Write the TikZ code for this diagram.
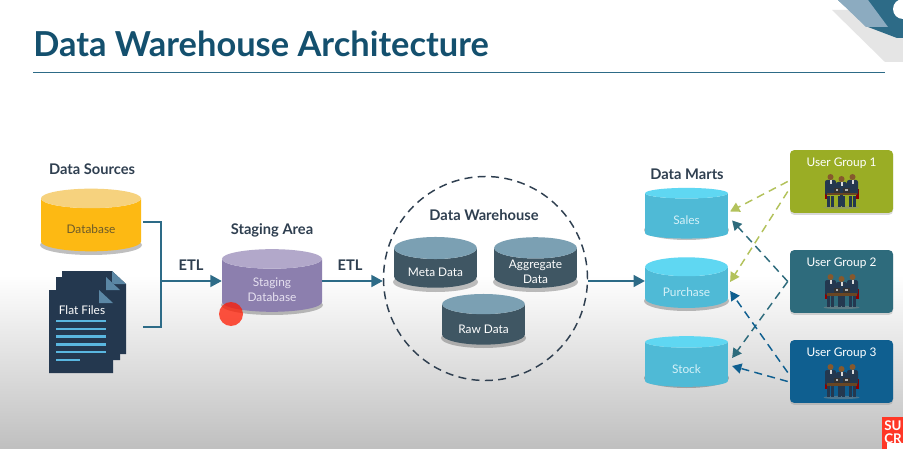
\documentclass[tikz,border=0pt]{standalone}
\usepackage{fontspec}
\setmainfont{Lato}
\usepackage{xcolor}
\usepackage{tikz}
\usetikzlibrary{calc,shapes.geometric,arrows.meta,shadows,positioning}

\definecolor{titleblue}{HTML}{14506E}
\definecolor{linkblue}{HTML}{2D6B87}
\definecolor{headgray}{HTML}{2F3F50}
\definecolor{fileblue}{HTML}{24384F}
\definecolor{foldblue}{HTML}{5B87A5}
\definecolor{rowblue}{HTML}{5AB7E0}
\definecolor{groupone}{HTML}{9AAD25}
\definecolor{grouptwo}{HTML}{2E6B7C}
\definecolor{groupthree}{HTML}{0F5F90}
\definecolor{dbbody}{HTML}{FDB913}
\definecolor{dbtop}{HTML}{F6D27E}
\definecolor{dbtext}{HTML}{6B5A2A}
\definecolor{stagebody}{HTML}{8C7FAE}
\definecolor{stagetop}{HTML}{B2A8CA}
\definecolor{stagetext}{HTML}{E6E1F0}
\definecolor{dwhbody}{HTML}{3F5663}
\definecolor{dwhtop}{HTML}{7BA0B3}
\definecolor{martbody}{HTML}{4FBAD6}
\definecolor{marttop}{HTML}{5FD7F2}
\definecolor{marttext}{HTML}{D5F1F8}

\newcommand{\dbdrop}{\rule{0pt}{13pt}}
\newcommand{\dblow}[1]{\raisebox{-6pt}[0pt][0pt]{#1}}

\tikzset{
  dbcyl/.style n args={3}{shape=cylinder,shape border rotate=90,aspect=0.4,draw=none,
    cylinder uses custom fill,cylinder body fill=#1,cylinder end fill=#2,text=#3,
    inner sep=0pt,align=center,font=\fontsize{8.9}{11}\selectfont},
  headtxt/.style={inner sep=0.75pt,text=headgray,font=\fontsize{11}{13}\selectfont\bfseries},
  groupbox/.style={rounded corners=3pt,minimum width=77.25pt,minimum height=47pt,inner sep=0pt,
    drop shadow={opacity=0.3,shadow xshift=0pt,shadow yshift=-1.5pt}},
  grouptxt/.style={inner sep=0.75pt,text=white,font=\fontsize{8.9}{10}\selectfont},
  link/.style={draw=linkblue,line width=1.1pt},
  linkarrow/.style={link,-{Triangle[length=8.5pt,width=9pt]}},
  useflow/.style={line width=1.1pt,dash pattern=on 6pt off 4pt,-{Triangle[length=7pt,width=7.5pt]}},
  team/.pic={
    \fill [black!45,opacity=0.5] (0,16.5) ellipse (18 and 1.6);
    \fill [red!55!black] (-17,-2) rectangle (-14.5,8);
    \fill [red!55!black] (14.5,-2) rectangle (17,8);
    \foreach \px/\hy in {-11/-14,0/-12,11/-14}{
      \fill [fileblue] (\px-3.2,5) rectangle (\px-0.4,16);
      \fill [fileblue] (\px+0.4,5) rectangle (\px+3.2,16);
      \fill [fileblue,rounded corners=1.5pt] (\px-5.5,\hy+3) rectangle (\px+5.5,4);
      \fill [white!85!black] (\px-1,\hy+3) rectangle (\px+1,\hy+7);
      \fill [brown!70!black] (\px,\hy) circle (3);
    }
    \fill [black!80] (-8,-3) rectangle (-1.5,2);
    \fill [white!70!black] (-6,-2) rectangle (-3.5,0);
    \fill [black!80] (1.5,-3) rectangle (8,2);
    \fill [white!70!black] (3.5,-2) rectangle (6,0);
    \fill [brown!55!black] (-15,2) rectangle (15,4.5);
    \fill [fileblue] (-1.2,4.5) rectangle (1.2,15);
  },
  filepage/.pic={
    \fill [fileblue] (0,0) -- (50,0) -- (64,13) -- (64,83) -- (0,83) -- cycle;
    \fill [foldblue] (50,0) -- (50,13) -- (64,13) -- cycle;
  }
}

\begin{document}
\begin{tikzpicture}[x=0.75pt,y=0.75pt,yscale=-1,xscale=1]
\useasboundingbox (0,0) rectangle (903,449);

%Background
\fill [white] (0,0) rectangle (903,449);
\shade [top color=white,bottom color=black!25] (0,275) rectangle (903,449);

%Corner shapes
\fill [black!10] (832,10) -- (903,10) -- (903,62) -- (885,62) -- cycle;
\fill [linkblue] (838,0) -- (903,0) -- (903,38) -- (897,38) -- (868,27) -- cycle;
\fill [foldblue!70!white] (838,0) -- (868,0) -- (888,27) -- (866,27) -- cycle;
\fill [white] (903,9) circle (10);

% Text Node
\draw (33,44) node [anchor=west,inner sep=0pt,text=titleblue,font=\fontsize{25.8}{28}\selectfont\bfseries] (title) {Data Warehouse Architecture};
%Straight Lines
\draw [linkblue,line width=0.9pt] (33,72.5) -- (885,72.5) ;

% Text Node
\draw (92,169) node [headtxt] (srchead) {Data Sources};
\draw (272,230) node [headtxt] (stagehead) {Staging Area};
\draw (484,215) node [headtxt] (dwhhead) {Data Warehouse};
\draw (687,174) node [headtxt] (marthead) {Data Marts};
\draw (191,265) node [headtxt] (etlone) {ETL};
\draw (350,265) node [headtxt] (etltwo) {ETL};

%Cylinder shadows
\foreach \sx/\sy/\rx in {91/245/50,272/305/50,435.5/282/41.5,535.5/282/41.5,483.5/338/41.5,686.5/230/41.5,686.5/301/41.5,686.5/378/41.5}{
  \fill [black,opacity=0.25] (\sx,\sy) ellipse (\rx+1 and 10);
}

%Cylinders
\draw (91,225) node [dbcyl={dbbody}{dbtop}{dbtext},minimum height=47pt,minimum width=75pt] (database) {\dbdrop Database};
\draw (272,285.5) node [dbcyl={stagebody}{stagetop}{stagetext},minimum height=47pt,minimum width=75pt] (staging) {\dbdrop Staging\\Database};
\draw (435.5,268) node [dbcyl={dwhbody}{dwhtop}{white},minimum height=38pt,minimum width=62pt] (metadata) {\dbdrop Meta Data};
\draw (535.5,268) node [dbcyl={dwhbody}{dwhtop}{white},minimum height=38pt,minimum width=62pt] (aggdata) {\dblow{Aggregate}\\\dblow{Data}};
\draw (483.5,324.5) node [dbcyl={dwhbody}{dwhtop}{white},minimum height=38pt,minimum width=62pt] (rawdata) {\dbdrop Raw Data};
\draw (686.5,216) node [dbcyl={martbody}{marttop}{marttext},minimum height=38pt,minimum width=62pt] (sales) {\dbdrop Sales};
\draw (686.5,287.5) node [dbcyl={martbody}{marttop}{marttext},minimum height=38pt,minimum width=62pt] (purchase) {\dbdrop Purchase};
\draw (686.5,364.5) node [dbcyl={martbody}{marttop}{marttext},minimum height=38pt,minimum width=62pt] (stock) {\dbdrop Stock};

%Dashed circle
\draw (485.5,278.5) node [circle,draw=headgray,line width=1.1pt,dash pattern=on 6pt off 4pt,minimum size=153pt,inner sep=0pt] (dwh) {};

%Flat files
\draw (62,271) pic [transform shape] {filepage};
\draw (56,277) pic [transform shape] {filepage};
\draw (49,290) pic [transform shape] {filepage};
\draw (82,310) node [inner sep=0.75pt,text=white,font=\fontsize{8.9}{10}\selectfont] (flatfiles) {Flat Files};
\foreach \ly/\lx in {321/106,329/106,336.5/106,344.5/106,352/106,360/80}{
  \fill [rowblue] (56,\ly-1.4) rectangle (\lx,\ly+1.4);
}
\coordinate (filesout) at (143,327);
\coordinate (dbout) at (143,222);
\coordinate (joint) at (161,281);

%Straight Lines
\draw [link] (dbout) -| (joint) |- (filesout) ;
\draw [linkarrow] (joint) -- (staging.west |- joint) ;
\draw [linkarrow] (staging.east |- joint) -- (dwh.west |- joint) ;
\draw [linkarrow] (dwh.east |- joint) -- (purchase.west |- joint) ;

%User groups
\draw (841.5,181.5) node [groupbox,fill=groupone] (groupa) {};
\draw (841.5,281.5) node [groupbox,fill=grouptwo] (groupb) {};
\draw (841.5,371.5) node [groupbox,fill=groupthree] (groupc) {};
\draw (841.5,163) node [grouptxt] (groupatxt) {User Group 1};
\draw (841.5,263) node [grouptxt] (groupbtxt) {User Group 2};
\draw (841.5,353) node [grouptxt] (groupctxt) {User Group 3};
\draw (841.5,191) pic [transform shape] {team};
\draw (841.5,291) pic [transform shape] {team};
\draw (841.5,381) pic [transform shape] {team};

%Dashed Lines
\draw [useflow,groupone!75!white] ($(groupa.west)+(-2,0)$) -- ($(sales.east)+(2,-4.5)$) ;
\draw [useflow,groupone!75!white] ($(groupa.west)+(-2,10)$) -- ($(purchase.east)+(2,-5.5)$) ;
\draw [useflow,grouptwo] ($(groupb.west)+(-2,0)$) -- ($(sales.east)+(4,4.5)$) ;
\draw [useflow,grouptwo] ($(groupb.west)+(-2,0)$) -- ($(stock.east)+(4,-6.5)$) ;
\draw [useflow,groupthree] ($(groupc.west)+(-2,1)$) -- ($(purchase.east)+(2,3.5)$) ;
\draw [useflow,groupthree] ($(groupc.west)+(-2,10)$) -- ($(stock.east)+(4,1.5)$) ;

%Pointer dot
\fill [red!80!orange,opacity=0.75] (231,314) circle (12);

%Logo
\begin{scope}
\clip (882,417) rectangle (903,449);
\fill [red!85!orange!85!white] (882,417) rectangle (903,449);
\fill [white] (887,443) rectangle (903,449);
\draw (884,420) node [anchor=north west,inner sep=0pt,text=white,align=left,font=\fontsize{10}{10}\selectfont\bfseries] (logo) {SU\\CR};
\end{scope}

\end{tikzpicture}
\end{document}
